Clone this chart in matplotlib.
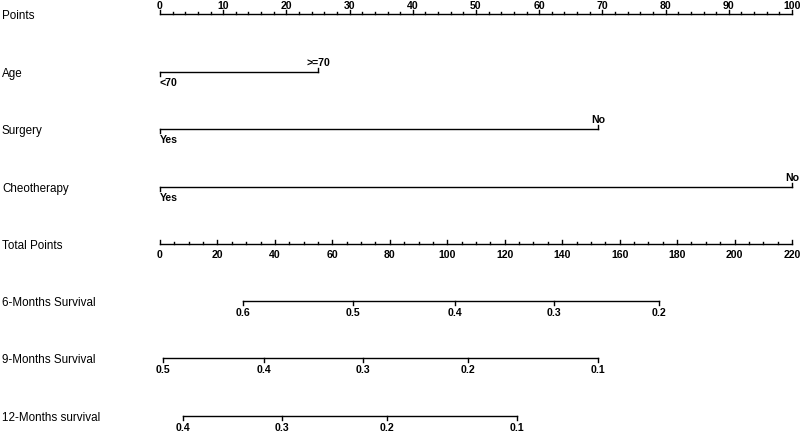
import matplotlib
matplotlib.use("Agg")
import matplotlib.pyplot as plt
import numpy as np

plt.rcParams['font.family'] = ['Liberation Sans', 'DejaVu Sans']

# ---- data ----
points_ticks = list(range(0, 101, 10))
age_levels = ["<70", ">=70"]
age_points = [0, 25]
surgery_levels = ["Yes", "No"]
surgery_points = [0, 69.3]
chemo_levels = ["Yes", "No"]
chemo_points = [0, 100]
total_ticks = list(range(0, 221, 20))
total_max = 220

surv6_probs = [0.6, 0.5, 0.4, 0.3, 0.2]
surv6_total = [28.9, 67.2, 102.7, 137.1, 173.7]
surv9_probs = [0.5, 0.4, 0.3, 0.2, 0.1]
surv9_total = [1.0, 36.2, 70.7, 107.2, 152.5]
surv12_probs = [0.4, 0.3, 0.2, 0.1]
surv12_total = [8.0, 42.5, 79.0, 124.3]

row_labels = ["Points", "Age", "Surgery", "Cheotherapy", "Total Points",
              "6-Months Survival", "9-Months Survival", "12-Months survival"]
row_y = [15, 73, 130, 188, 245, 302, 359, 417]

fig = plt.figure(figsize=(8, 4.35), dpi=100)
ax = fig.add_axes([0, 0, 1, 1])
ax.set_xlim(-160 / 6.32, (800 - 160) / 6.32)
ax.set_ylim(435, 0)
ax.axis('off')

LW = 1.0
MAJ = 4
MIN = 2
TFS = 7.6
LFS = 8.4

def tot2pts(t):
    return np.asarray(t, dtype=float) * 100.0 / total_max

for lab, y in zip(row_labels, row_y):
    ax.text(-160 / 6.32 + 2 / 6.32, y + 1, lab, fontsize=LFS, va='center', ha='left')

# Points axis
y = row_y[0]
ax.plot([0, 100], [y, y], color='black', lw=LW)
for v in np.arange(0, 101, 2):
    L = MAJ if v % 10 == 0 else MIN
    ax.plot([v, v], [y, y - L], color='black', lw=LW)
for v in points_ticks:
    ax.text(v, y - 6, str(v), fontsize=TFS, fontweight='bold', ha='center', va='baseline')

# categorical axes
def cat_axis(y, levels, pts):
    ax.plot([pts[0], pts[-1]], [y, y], color='black', lw=LW)
    for i, (lev, p) in enumerate(zip(levels, pts)):
        if i % 2 == 0:
            ax.plot([p, p], [y, y + MAJ], color='black', lw=LW)
            ax.text(p, y + 5, lev, fontsize=TFS, fontweight='bold', ha='left' if p == 0 else 'center', va='top')
        else:
            ax.plot([p, p], [y, y - MAJ], color='black', lw=LW)
            ax.text(p, y - 5, lev, fontsize=TFS, fontweight='bold', ha='center', va='bottom')

cat_axis(row_y[1], age_levels, age_points)
cat_axis(row_y[2], surgery_levels, surgery_points)
cat_axis(row_y[3], chemo_levels, chemo_points)

# Total points
y = row_y[4]
ax.plot([0, 100], [y, y], color='black', lw=LW)
for v in np.arange(0, total_max + 1, 5):
    L = MAJ if v % 20 == 0 else MIN
    ax.plot([tot2pts(v)] * 2, [y, y - L], color='black', lw=LW)
for v in total_ticks:
    ax.text(tot2pts(v), y + 5, str(v), fontsize=TFS, fontweight='bold', ha='center', va='top')

# survival axes
def surv_axis(y, probs, tots):
    xs = tot2pts(tots)
    ax.plot([xs.min(), xs.max()], [y, y], color='black', lw=LW)
    for p, x in zip(probs, xs):
        ax.plot([x, x], [y, y + MAJ], color='black', lw=LW)
        ax.text(x, y + 6, f"{p:.1f}", fontsize=TFS, fontweight='bold', ha='center', va='top')

surv_axis(row_y[5], surv6_probs, surv6_total)
surv_axis(row_y[6], surv9_probs, surv9_total)
surv_axis(row_y[7], surv12_probs, surv12_total)

fig.savefig("out.png", dpi=100)
